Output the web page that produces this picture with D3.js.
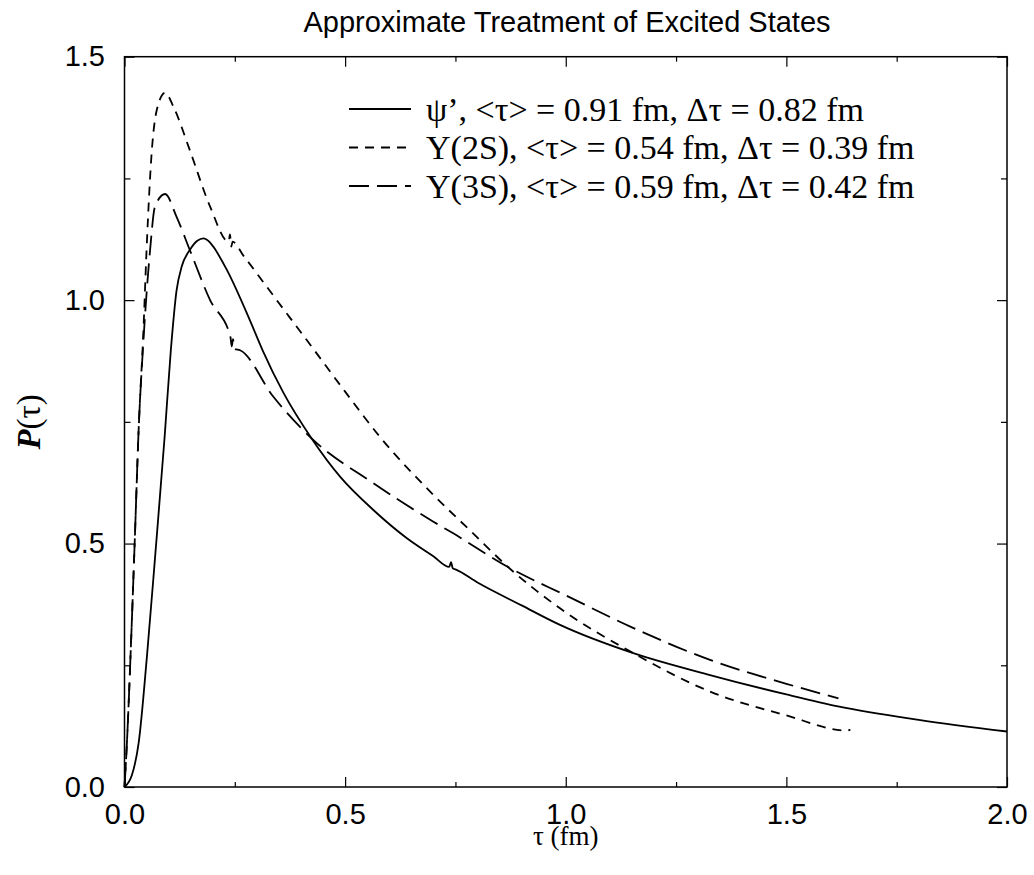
<!DOCTYPE html>
<html>
<head>
<meta charset="utf-8">
<script src="https://cdn.jsdelivr.net/npm/d3@7"></script>
<style>
  body { margin: 0; background: #fff; }
</style>
</head>
<body>
<div id="chart"></div>
<script>
// tau (fm) and P(tau)
const psiTau = [0, 0.017, 0.032, 0.051, 0.070, 0.091, 0.105, 0.118, 0.130, 0.148, 0.165, 0.179, 0.192, 0.201, 0.232, 0.284, 0.313, 0.360, 0.424, 0.489, 0.564, 0.640, 0.700, 0.736, 0.740, 0.744, 0.75, 0.80, 0.90, 0.987, 1.153, 1.327, 1.50, 1.62, 1.80, 2.0];
const psiP   = [0, 0.025, 0.09, 0.27, 0.48, 0.72, 0.897, 1.02, 1.07, 1.103, 1.122, 1.127, 1.12, 1.110, 1.062, 0.959, 0.897, 0.81, 0.716, 0.637, 0.569, 0.511, 0.474, 0.452, 0.462, 0.449, 0.447, 0.42, 0.373, 0.333, 0.275, 0.230, 0.19, 0.165, 0.138, 0.114];

const ups2Tau = [0, 0.006, 0.013, 0.023, 0.032, 0.043, 0.050, 0.062, 0.073, 0.092, 0.111, 0.148, 0.194, 0.236, 0.239, 0.242, 0.245, 0.269, 0.345, 0.413, 0.50, 0.579, 0.70, 0.790, 0.869, 0.987, 1.153, 1.327, 1.50, 1.637, 1.645];
const ups2P   = [0, 0.10, 0.254, 0.50, 0.733, 0.94, 1.103, 1.308, 1.39, 1.426, 1.397, 1.308, 1.192, 1.12, 1.135, 1.11, 1.12, 1.092, 1.0, 0.918, 0.812, 0.719, 0.60, 0.521, 0.452, 0.367, 0.275, 0.196, 0.147, 0.116, 0.118];

const ups3Tau = [0, 0.006, 0.013, 0.023, 0.032, 0.043, 0.058, 0.069, 0.092, 0.118, 0.148, 0.194, 0.240, 0.243, 0.246, 0.249, 0.262, 0.337, 0.424, 0.564, 0.700, 0.745, 0.869, 1.006, 1.15, 1.327, 1.50, 1.618];
const ups3P   = [0, 0.10, 0.254, 0.50, 0.733, 0.918, 1.103, 1.192, 1.218, 1.171, 1.103, 1.0, 0.925, 0.905, 0.92, 0.90, 0.897, 0.802, 0.716, 0.624, 0.545, 0.521, 0.452, 0.391, 0.328, 0.261, 0.212, 0.182];

const legendLabels = [
    "\u03c8\u2019, <\u03c4> = 0.91 fm, \u0394\u03c4 = 0.82 fm",
    "Y(2S), <\u03c4> = 0.54 fm, \u0394\u03c4 = 0.39 fm",
    "Y(3S), <\u03c4> = 0.59 fm, \u0394\u03c4 = 0.42 fm"
];
const xTicks = [0, 0.5, 1.0, 1.5, 2.0];
const yTicks = [0, 0.5, 1.0, 1.5];
const xMinor = [0.25, 0.75, 1.25, 1.75];
const yMinor = [0.25, 0.75, 1.25];

const width = 1034,
    height = 875,
    margin = ({ top: 56.7, right: 27, bottom: 88, left: 124.5 });

const series = [
    { tau: psiTau, p: psiP, dash: null },
    { tau: ups2Tau, p: ups2P, dash: "9,7" },
    { tau: ups3Tau, p: ups3P, dash: "20,8" }
];

let svg = d3.select("#chart")
    .append("svg")
    .attr("width", width)
    .attr("height", height);

const x = d3.scaleLinear()
    .domain([0, 2])
    .range([margin.left, width - margin.right]);

const y = d3.scaleLinear()
    .domain([0, 1.5])
    .range([height - margin.bottom, margin.top]);

const fmt = d3.format(".1f");
const sans = "'Liberation Sans', Arial, sans-serif";
const serif = "'Liberation Serif', 'Times New Roman', serif";

// axes, ticks pointing inward on all four sides
const styleAxis = g => {
    g.select(".domain").remove();
    g.selectAll("line").attr("stroke", "#000").attr("stroke-width", 1.2);
    g.selectAll("text").attr("font-family", sans).attr("font-size", 29).attr("fill", "#000");
};

svg.append("g")
    .attr("transform", `translate(0, ${y(0)})`)
    .call(d3.axisBottom(x).tickValues(xTicks).tickFormat(fmt).tickSize(-10).tickPadding(16))
    .call(styleAxis);
svg.append("g")
    .attr("transform", `translate(0, ${y(0)})`)
    .call(d3.axisBottom(x).tickValues(xMinor).tickFormat("").tickSize(-5))
    .call(styleAxis);
svg.append("g")
    .attr("transform", `translate(0, ${y(1.5)})`)
    .call(d3.axisTop(x).tickValues(xTicks).tickFormat("").tickSize(-10))
    .call(styleAxis);
svg.append("g")
    .attr("transform", `translate(0, ${y(1.5)})`)
    .call(d3.axisTop(x).tickValues(xMinor).tickFormat("").tickSize(-5))
    .call(styleAxis);

svg.append("g")
    .attr("transform", `translate(${x(0)}, 0)`)
    .call(d3.axisLeft(y).tickValues(yTicks).tickFormat(fmt).tickSize(-10).tickPadding(19.5))
    .call(styleAxis);
svg.append("g")
    .attr("transform", `translate(${x(0)}, 0)`)
    .call(d3.axisLeft(y).tickValues(yMinor).tickFormat("").tickSize(-6))
    .call(styleAxis);
svg.append("g")
    .attr("transform", `translate(${x(2)}, 0)`)
    .call(d3.axisRight(y).tickValues(yTicks).tickFormat("").tickSize(-10))
    .call(styleAxis);
svg.append("g")
    .attr("transform", `translate(${x(2)}, 0)`)
    .call(d3.axisRight(y).tickValues(yMinor).tickFormat("").tickSize(-6))
    .call(styleAxis);

svg.append("rect")
    .attr("x", x(0))
    .attr("y", y(1.5))
    .attr("width", x(2) - x(0))
    .attr("height", y(0) - y(1.5))
    .attr("fill", "none")
    .attr("stroke", "#000")
    .attr("stroke-width", 1.5);

const line = d3.line()
    .x(d => x(d[0]))
    .y(d => y(d[1]))
    .curve(d3.curveMonotoneX);

svg.selectAll(".curve")
    .data(series)
    .join("path")
    .attr("class", "curve")
    .attr("d", s => line(d3.zip(s.tau, s.p)))
    .attr("fill", "none")
    .attr("stroke", "#000")
    .attr("stroke-width", 1.8)
    .attr("stroke-dasharray", s => s.dash);

// legend
let legend = svg.selectAll(".legend")
    .data(series)
    .join("g")
    .attr("class", "legend")
    .attr("transform", (d, i) => `translate(349, ${109 + i * 38.5})`);

legend.append("line")
    .attr("x1", 0)
    .attr("x2", 62)
    .attr("stroke", "#000")
    .attr("stroke-width", 1.8)
    .attr("stroke-dasharray", d => d.dash);

legend.append("text")
    .text((d, i) => legendLabels[i])
    .attr("x", 77)
    .attr("dy", "0.35em")
    .attr("font-family", serif)
    .attr("font-size", 34);

svg.append("text")
    .text("Approximate Treatment of Excited States")
    .attr("x", 567)
    .attr("y", 32)
    .attr("text-anchor", "middle")
    .attr("font-family", sans)
    .attr("font-size", 29);

svg.append("text")
    .text("\u03c4 (fm)")
    .attr("x", x(1))
    .attr("y", 845)
    .attr("text-anchor", "middle")
    .attr("font-family", serif)
    .attr("font-size", 27);

svg.append("text")
    .attr("transform", `translate(40, ${y(0.75)}) rotate(-90)`)
    .attr("text-anchor", "middle")
    .attr("font-family", serif)
    .attr("font-size", 33)
    .call(t => {
        t.append("tspan").text("P").attr("font-weight", "bold").attr("font-style", "italic");
        t.append("tspan").text("(\u03c4)");
    });
</script>
</body>
</html>
